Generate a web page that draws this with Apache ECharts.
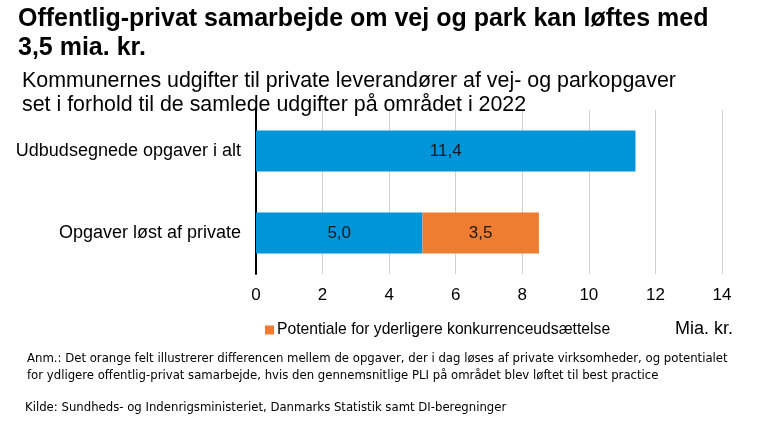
<!DOCTYPE html>
<html lang="da">
<head>
<meta charset="UTF-8">
<title>Offentlig-privat samarbejde</title>
<script src="https://cdn.jsdelivr.net/npm/echarts@6/dist/echarts.min.js"></script>
<style>
  html, body { margin: 0; padding: 0; background: #fff; }
  #container { width: 773px; height: 426px; }
</style>
</head>
<body>
<div id="container"></div>
<script>
    // data
    var categories = ['Udbudsegnede opgaver i alt', 'Opgaver løst af private'];
    var blueValues = [11.4, 5.0];
    var orangeValues = ['-', 3.5];
    var orangeName = 'Potentiale for yderligere konkurrenceudsættelse';
    var xTicks = [0, 14, 2]; // min, max, interval

    var font = 'Arial, "Liberation Sans", sans-serif';
    var narrow = '"Liberation Sans Narrow", "Arial Narrow", "DejaVu Sans Condensed", sans-serif';

    var myChart = echarts.init(document.getElementById('container'));

    var labelFmt = function (p) {
        return p.value.toFixed(1).replace('.', ',');
    };

    myChart.setOption({
        backgroundColor: '#ffffff',
        animation: false,
        title: [
            {
                text: 'Offentlig-privat samarbejde om vej og park kan løftes med\n3,5 mia. kr.',
                left: 13, top: 0,
                textStyle: {fontFamily: font, fontWeight: 'bold', fontSize: 25, color: '#000', lineHeight: 29}
            },
            {
                text: 'Kommunernes udgifter til private leverandører af vej- og parkopgaver\nset i forhold til de samlede udgifter på området i 2022',
                left: 17, top: 64,
                textStyle: {fontFamily: font, fontWeight: 'normal', fontSize: 21.4, color: '#000', lineHeight: 24}
            },
            {
                text: 'Anm.: Det orange felt illustrerer differencen mellem de opgaver, der i dag løses af private virksomheder, og potentialet\nfor ydligere offentlig-privat samarbejde, hvis den gennemsnitlige PLI på området blev løftet til best practice',
                left: 22, top: 345,
                textStyle: {fontFamily: narrow, fontWeight: 'normal', fontSize: 13, color: '#000', lineHeight: 17}
            },
            {
                text: 'Kilde: Sundheds- og Indenrigsministeriet, Danmarks Statistik samt DI-beregninger',
                left: 20, top: 396,
                textStyle: {fontFamily: narrow, fontWeight: 'normal', fontSize: 13, color: '#000'}
            },
            {
                text: 'Mia. kr.',
                left: 670, top: 315,
                textStyle: {fontFamily: font, fontWeight: 'normal', fontSize: 18, color: '#000'}
            }
        ],
        legend: {
            data: [orangeName],
            left: 260, top: 317,
            itemWidth: 9, itemHeight: 9, itemGap: 4,
            icon: 'rect',
            textStyle: {fontFamily: font, fontSize: 15.7, color: '#000', padding: [0, 0, 0, -2]}
        },
        grid: {left: 256, right: 51, top: 110, bottom: 152, containLabel: false},
        xAxis: {
            type: 'value',
            min: xTicks[0], max: xTicks[1], interval: xTicks[2],
            axisLine: {show: false},
            axisTick: {show: false},
            axisLabel: {fontFamily: font, fontSize: 17, color: '#000', margin: 13},
            splitLine: {show: true, lineStyle: {color: '#d0d0d0', width: 1}}
        },
        yAxis: {
            type: 'category',
            data: categories,
            inverse: true,
            axisLine: {show: true, lineStyle: {color: '#000', width: 2}},
            axisTick: {show: false},
            axisLabel: {fontFamily: font, fontSize: 18, color: '#000', margin: 15}
        },
        series: [
            {
                name: 'Blå',
                type: 'bar',
                stack: 'total',
                barWidth: '50%',
                data: blueValues,
                itemStyle: {color: '#0095d8'},
                label: {show: true, position: 'inside', formatter: labelFmt,
                    fontFamily: font, fontSize: 17, color: '#1a1a1a'}
            },
            {
                name: orangeName,
                type: 'bar',
                stack: 'total',
                barWidth: '50%',
                data: orangeValues,
                itemStyle: {color: '#ee7d31'},
                label: {show: true, position: 'inside', formatter: labelFmt,
                    fontFamily: font, fontSize: 17, color: '#1a1a1a'}
            }
        ]
    });
</script>
</body>
</html>
